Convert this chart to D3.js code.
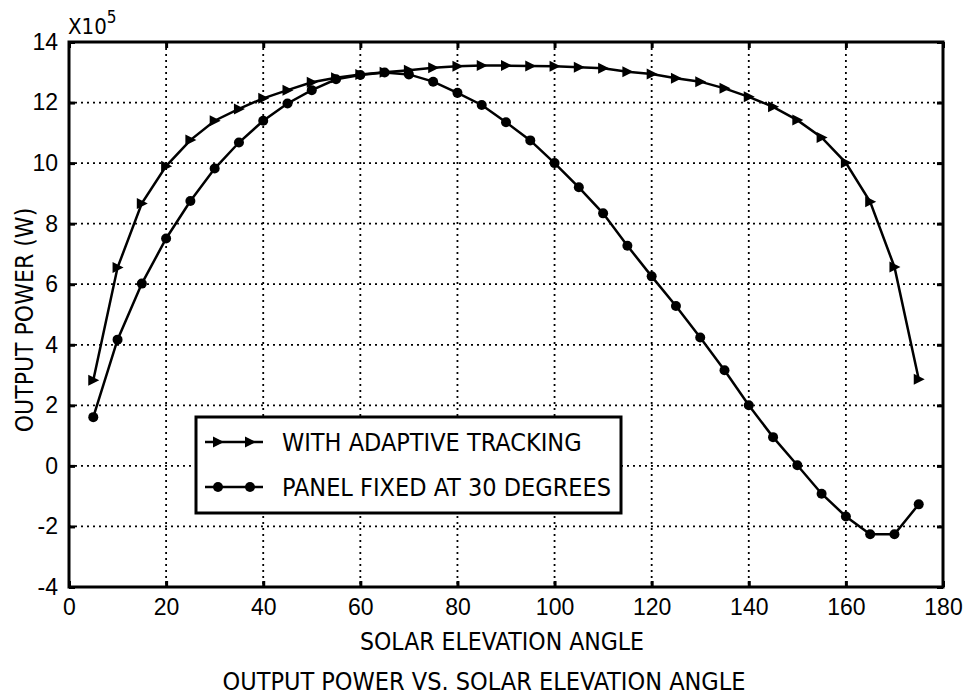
<!DOCTYPE html>
<html>
<head>
<meta charset="utf-8">
<script src="https://cdn.jsdelivr.net/npm/d3@7"></script>
<style>
  body { margin: 0; background: #fff; }
  svg { display: block; font-family: "DejaVu Sans Condensed", "DejaVu Sans", Verdana, sans-serif; }
</style>
</head>
<body>
<div id="chart"></div>
<script>
// Solar elevation angle (degrees)
const angles = [5, 10, 15, 20, 25, 30, 35, 40, 45, 50, 55, 60, 65, 70, 75, 80, 85, 90,
  95, 100, 105, 110, 115, 120, 125, 130, 135, 140, 145, 150, 155, 160, 165, 170, 175];

// Output power, x10^5 W
const tracking = [2.83, 6.55, 8.67, 9.9, 10.76, 11.4, 11.79, 12.14, 12.41, 12.67, 12.82, 12.93,
  13.0, 13.07, 13.15, 13.2, 13.22, 13.22, 13.21, 13.2, 13.17, 13.13, 13.02, 12.94, 12.8,
  12.69, 12.47, 12.19, 11.86, 11.42, 10.85, 10.01, 8.72, 6.57, 2.86];

const fixed30 = [1.61, 4.17, 6.02, 7.51, 8.75, 9.82, 10.68, 11.4, 11.97, 12.41, 12.77, 12.91,
  12.99, 12.93, 12.69, 12.32, 11.92, 11.35, 10.75, 10.0, 9.2, 8.34, 7.27, 6.26, 5.28,
  4.24, 3.16, 2.0, 0.95, 0.02, -0.92, -1.67, -2.26, -2.26, -1.27];

const xTicks = [0, 20, 40, 60, 80, 100, 120, 140, 160, 180];
const yTicks = [-4, -2, 0, 2, 4, 6, 8, 10, 12, 14];
const legendLabels = ['WITH ADAPTIVE TRACKING', 'PANEL FIXED AT 30 DEGREES'];

const width = 968, height = 696;
const margin = { top: 42, right: 25, bottom: 109, left: 69 };
const tickSize = 23, labelSize = 24.5;

const svg = d3.select('#chart').append('svg')
  .attr('width', width)
  .attr('height', height);

const x = d3.scaleLinear().domain([0, 180]).range([margin.left, width - margin.right]);
const y = d3.scaleLinear().domain([-4, 14]).range([height - margin.bottom, margin.top]);

// dotted grid
svg.append('g')
  .selectAll('line')
  .data(xTicks.slice(1, -1))
  .join('line')
  .attr('x1', d => x(d)).attr('x2', d => x(d))
  .attr('y1', y(14)).attr('y2', y(-4))
  .attr('stroke', '#000').attr('stroke-width', 1.8)
  .attr('stroke-dasharray', '2,4');

svg.append('g')
  .selectAll('line')
  .data(yTicks.slice(1, -1))
  .join('line')
  .attr('x1', x(0)).attr('x2', x(180))
  .attr('y1', d => y(d)).attr('y2', d => y(d))
  .attr('stroke', '#000').attr('stroke-width', 1.8)
  .attr('stroke-dasharray', '2,4');

// axes with inward ticks; plain hyphen for negatives
const fmt = d => String(d);
const tickFont = g => g.selectAll('text')
  .attr('font-size', tickSize).attr('fill', '#000')
  .attr('font-family', null);

svg.append('g')
  .attr('transform', `translate(0,${y(-4)})`)
  .call(d3.axisBottom(x).tickValues(xTicks).tickFormat(fmt).tickSize(-6).tickPadding(12))
  .call(tickFont);
svg.append('g')
  .attr('transform', `translate(0,${y(14)})`)
  .call(d3.axisTop(x).tickValues(xTicks).tickSize(-6).tickFormat(''));
svg.append('g')
  .attr('transform', `translate(${x(0)},0)`)
  .call(d3.axisLeft(y).tickValues(yTicks).tickFormat(fmt).tickSize(-6).tickPadding(11))
  .call(tickFont);
svg.append('g')
  .attr('transform', `translate(${x(180)},0)`)
  .call(d3.axisRight(y).tickValues(yTicks).tickSize(-6).tickFormat(''));

svg.selectAll('.tick line').attr('stroke', '#000').attr('stroke-width', 3);
svg.selectAll('.domain').remove();

// frame
svg.append('rect')
  .attr('x', x(0)).attr('y', y(14))
  .attr('width', x(180) - x(0)).attr('height', y(-4) - y(14))
  .attr('fill', 'none').attr('stroke', '#000').attr('stroke-width', 3);

// exponent label
const expo = svg.append('text')
  .attr('x', 68).attr('y', 34)
  .attr('font-size', 22);
expo.append('tspan').text('X10');
expo.append('tspan').attr('dy', -11).attr('font-size', 17).text('5');

// series
const line = d3.line().x((d, i) => x(angles[i])).y(d => y(d));

const triangle = 'M-5,-5.5L6,0L-5,5.5Z';

function drawSeries(values, marker) {
  svg.append('path')
    .datum(values)
    .attr('d', line)
    .attr('fill', 'none').attr('stroke', '#000').attr('stroke-width', 2.5);
  const pts = svg.append('g')
    .selectAll('g')
    .data(values)
    .join('g')
    .attr('transform', (d, i) => `translate(${x(angles[i])},${y(d)})`);
  marker(pts);
}

const triMarker = sel => sel.append('path').attr('d', triangle).attr('fill', '#000');
const dotMarker = sel => sel.append('circle').attr('r', 5).attr('fill', '#000');

drawSeries(tracking, triMarker);
drawSeries(fixed30, dotMarker);

// legend
const legend = svg.append('g').attr('transform', 'translate(196,417)');
legend.append('rect')
  .attr('width', 425).attr('height', 96)
  .attr('fill', '#fff').attr('stroke', '#000').attr('stroke-width', 3);

const markers = [triMarker, dotMarker];
legendLabels.forEach((label, i) => {
  const row = legend.append('g').attr('transform', `translate(0,${25 + i * 45})`);
  row.append('line')
    .attr('x1', 9).attr('x2', 67).attr('y1', 0).attr('y2', 0)
    .attr('stroke', '#000').attr('stroke-width', 2.5);
  const m = row.selectAll('g').data([22, 54]).join('g')
    .attr('transform', d => `translate(${d},0)`);
  markers[i](m);
  row.append('text')
    .attr('x', 86).attr('y', 9)
    .attr('font-size', 25)
    .text(label);
});

// axis titles
svg.append('text')
  .attr('x', 502).attr('y', 650)
  .attr('text-anchor', 'middle').attr('font-size', labelSize)
  .text('SOLAR ELEVATION ANGLE');

svg.append('text')
  .attr('transform', `translate(33,320) rotate(-90)`)
  .attr('text-anchor', 'middle').attr('font-size', labelSize)
  .text('OUTPUT POWER (W)');

svg.append('text')
  .attr('x', width / 2).attr('y', 690)
  .attr('text-anchor', 'middle').attr('font-size', 25)
  .text('OUTPUT POWER VS. SOLAR ELEVATION ANGLE');
</script>
</body>
</html>
